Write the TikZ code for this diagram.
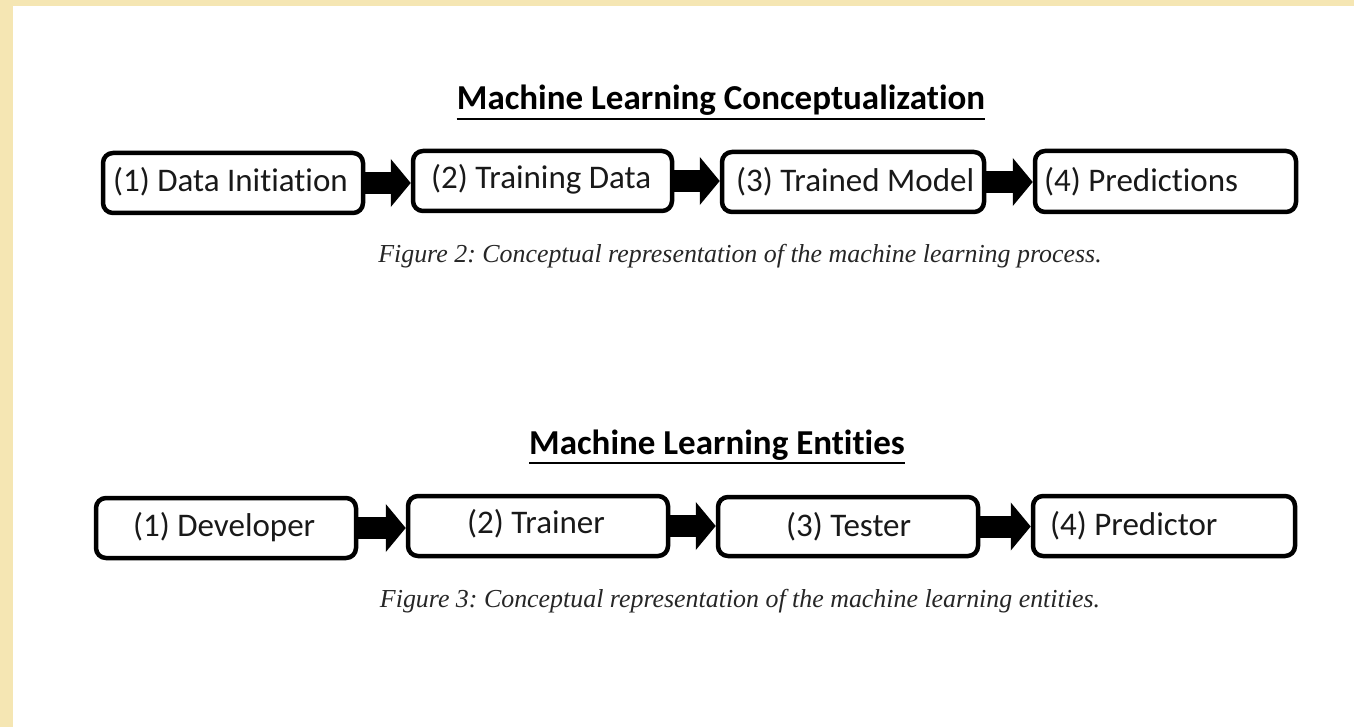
\documentclass[tikz,border=0pt]{standalone}
\usepackage{fontspec}
\setmainfont{Carlito}[Ligatures=NoCommon]
\newfontfamily\capfont{Liberation Serif}
\usetikzlibrary{arrows.meta}
\definecolor{beige}{RGB}{245,230,179}
\frenchspacing
\begin{document}
\begin{tikzpicture}[x=1pt,y=-1pt,
  box/.style={draw=black, line width=4.5pt, rounded corners=10pt, fill=white, inner sep=0pt},
  lbl/.style={font=\fontsize{33}{40}\selectfont, inner sep=0pt, anchor=base west, text=black!90},
  ttl/.style={font=\fontsize{35}{42}\selectfont\bfseries, inner sep=0pt, anchor=base},
  uline/.style={line width=2.5pt},
  capt/.style={font=\capfont\itshape\fontsize{25.9}{30}\selectfont, inner sep=0pt, anchor=base, text=black!85},
  flow/.style={line width=22pt, -{Triangle[length=20pt,width=47pt]}},
]
\useasboundingbox (0,0) rectangle (1354,727);
\fill[beige] (0,0) rectangle (1354,727);
\fill[white] (13,6) rectangle (1354,727);

% Figure 2
\node[ttl] (t1) at (721,110) {Machine Learning Conceptualization};
\draw[uline] ([yshift=-9pt]t1.base west) -- ([yshift=-9pt]t1.base east);

\node[box, minimum width=260pt, minimum height=60pt] (b1) at (233,183) {};
\node[box, minimum width=259pt, minimum height=60pt] (b2) at (542.5,181) {};
\node[box, minimum width=262pt, minimum height=60pt] (b3) at (853,182) {};
\node[box, minimum width=261pt, minimum height=61pt] (b4) at (1165.5,181.5) {};

\node[lbl] (b1t) at (113,192) {(1) Data Initiation};
\node[lbl] (b2t) at (431,189) {(2) Training Data};
\node[lbl] (b3t) at (736,192) {(3) Trained Model};
\node[lbl] (b4t) at (1044,192) {(4) Predictions};

\draw[flow] (b1.east) -- (b1.east -| b2.west);
\draw[flow] (b2.east) -- (b2.east -| b3.west);
\draw[flow] (b3.east) -- (b3.east -| b4.west);

\node[capt] (k1) at (740,262) {Figure 2: Conceptual representation of the machine learning process.};

% Figure 3
\node[ttl] (t2) at (717,454) {Machine Learning Entities};
\draw[uline] ([yshift=-9pt]t2.base west) -- ([yshift=-9pt]t2.base east);

\node[box, minimum width=260pt, minimum height=60pt] (c1) at (226,528) {};
\node[box, minimum width=260pt, minimum height=60pt] (c2) at (538,526) {};
\node[box, minimum width=260pt, minimum height=59pt] (c3) at (848,526.5) {};
\node[box, minimum width=262pt, minimum height=60pt] (c4) at (1164,526) {};

\node[lbl] (c1t) at (133,536) {(1) Developer};
\node[lbl] (c2t) at (467,533) {(2) Trainer};
\node[lbl] (c3t) at (786,536) {(3) Tester};
\node[lbl] (c4t) at (1050,535) {(4) Predictor};

\draw[flow] (c1.east) -- (c1.east -| c2.west);
\draw[flow] (c2.east) -- (c2.east -| c3.west);
\draw[flow] (c3.east) -- (c3.east -| c4.west);

\node[capt] (k2) at (740,607) {Figure 3: Conceptual representation of the machine learning entities.};
\end{tikzpicture}
\end{document}
